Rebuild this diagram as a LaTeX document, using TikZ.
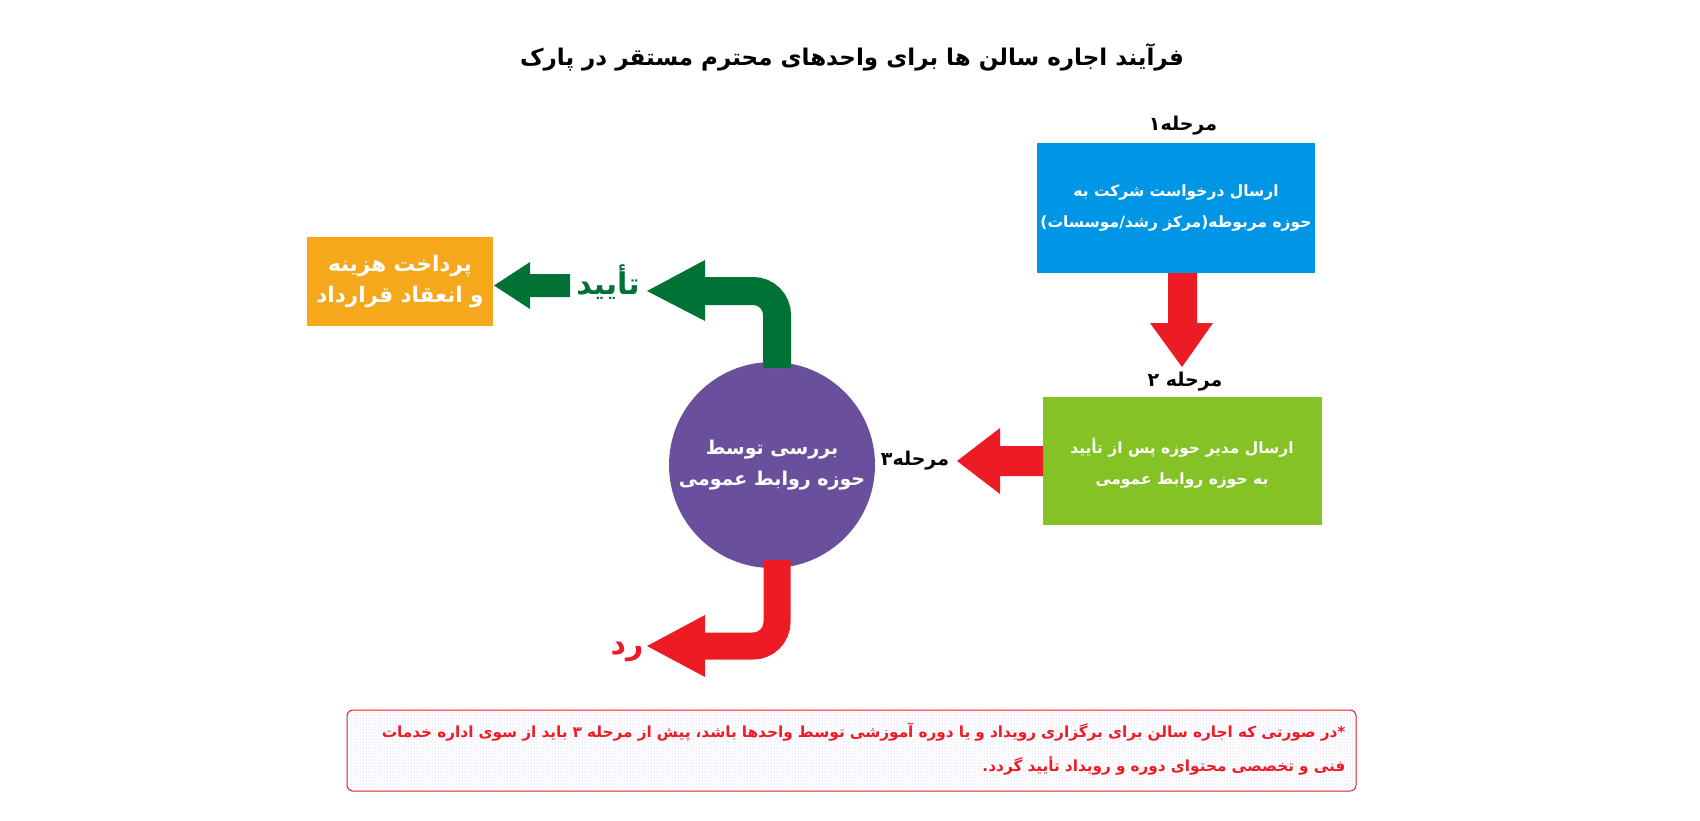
\documentclass[tikz,border=0pt]{standalone}
\usepackage{fontspec}
\usetikzlibrary{patterns}
\TeXXeTstate=1
\newfontfamily\fa[Script=Arabic]{DejaVu Sans}
\newcommand{\R}[1]{\beginR #1\endR}
\definecolor{cblue}{RGB}{0,150,230}
\definecolor{cgreen}{RGB}{132,194,37}
\definecolor{cpurple}{RGB}{106,79,156}
\definecolor{corange}{RGB}{245,168,28}
\definecolor{cred}{RGB}{237,28,36}
\definecolor{cdgreen}{RGB}{0,114,54}
\begin{document}
\begin{tikzpicture}[x=1pt,y=-1pt,
  txt/.style={font=\fa\bfseries, inner sep=0pt},
  lbl/.style={txt,font=\fa\bfseries\fontsize{19}{22}\selectfont}]
\useasboundingbox[fill=white] (0,0) rectangle (1700,820);
\node[txt, font=\fa\bfseries\fontsize{23}{28}\selectfont] (title) at (852,57) {\R{فرآیند اجاره سالن ها برای واحدهای محترم مستقر در پارک}};
% boxes
\fill[cblue] (1037,143) rectangle (1315,273);
\node[txt,text=white,align=center,font=\fa\bfseries\fontsize{15.5}{31}\selectfont] (b1) at (1176,208) {\R{ارسال درخواست شرکت به}\\\R{حوزه مربوطه(مرکز رشد/موسسات)}};
\fill[cgreen] (1043,397) rectangle (1322,525);
\node[txt,text=white,align=center,font=\fa\bfseries\fontsize{15.5}{31}\selectfont] (b2) at (1182,463) {\R{ارسال مدیر حوزه پس از تأیید}\\\R{به حوزه روابط عمومی}};
\fill[corange] (307,237) rectangle (493,326);
\node[txt,text=white,align=center,font=\fa\bfseries\fontsize{21.5}{31}\selectfont] (b3) at (400,281) {\R{پرداخت هزینه}\\\R{و انعقاد قرارداد}};
\fill[cpurple] (772,465) circle (103);
\node[txt,text=white,align=center,font=\fa\bfseries\fontsize{19}{31}\selectfont] (c) at (772,465) {\R{بررسی توسط}\\\R{حوزه روابط عمومی}};
% labels
\node[lbl] (m1) at (1183,126) {\R{مرحله۱}};
\node[lbl] (m2) at (1185,382) {\R{مرحله ۲}};
\node[lbl] (m3) at (915,461) {\R{مرحله۳}};
\node[txt,text=cdgreen,font=\fa\bfseries\fontsize{30}{34}\selectfont] (ok) at (608,282) {\R{تأیید}};
\node[txt,text=cred,font=\fa\bfseries\fontsize{30}{34}\selectfont] (no) at (627,652) {\R{رد}};
% arrows
\fill[cred] (1168,273) -- (1197,273) -- (1197,323) -- (1213,323) -- (1182,367) -- (1150,323) -- (1168,323) -- cycle;
\fill[cred] (1043,446) -- (1043,476) -- (1000,476) -- (1000,494) -- (957,461) -- (1000,428) -- (1000,446) -- cycle;
\draw[cdgreen,line width=28pt,rounded corners=24pt] (777,368) -- (777,291) -- (704,291);
\fill[cdgreen] (705,260) -- (705,321) -- (647,291) -- cycle;
\fill[cdgreen] (570,274) -- (570,297) -- (530,297) -- (530,309) -- (494,285.5) -- (530,262) -- (530,274) -- cycle;
\draw[cred,line width=27pt,rounded corners=24pt] (777,560) -- (777,646) -- (704,646);
\fill[cred] (705,615) -- (705,677) -- (647,646) -- cycle;
% note
\draw[cred,line width=1pt,rounded corners=6pt,pattern=dots,pattern color=blue!30] (347,710) rectangle (1356,791);
\node[txt,text=cred,align=right,text width=975pt,font=\fa\bfseries\fontsize{15.3}{34}\selectfont] (note) at (858,749) {\R{*در صورتی که اجاره سالن برای برگزاری رویداد و یا دوره آموزشی توسط واحدها باشد، پیش از مرحله ۳ باید از سوی اداره خدمات}\\\R{فنی و تخصصی محتوای دوره و رویداد تأیید گردد.}};
\end{tikzpicture}
\end{document}
